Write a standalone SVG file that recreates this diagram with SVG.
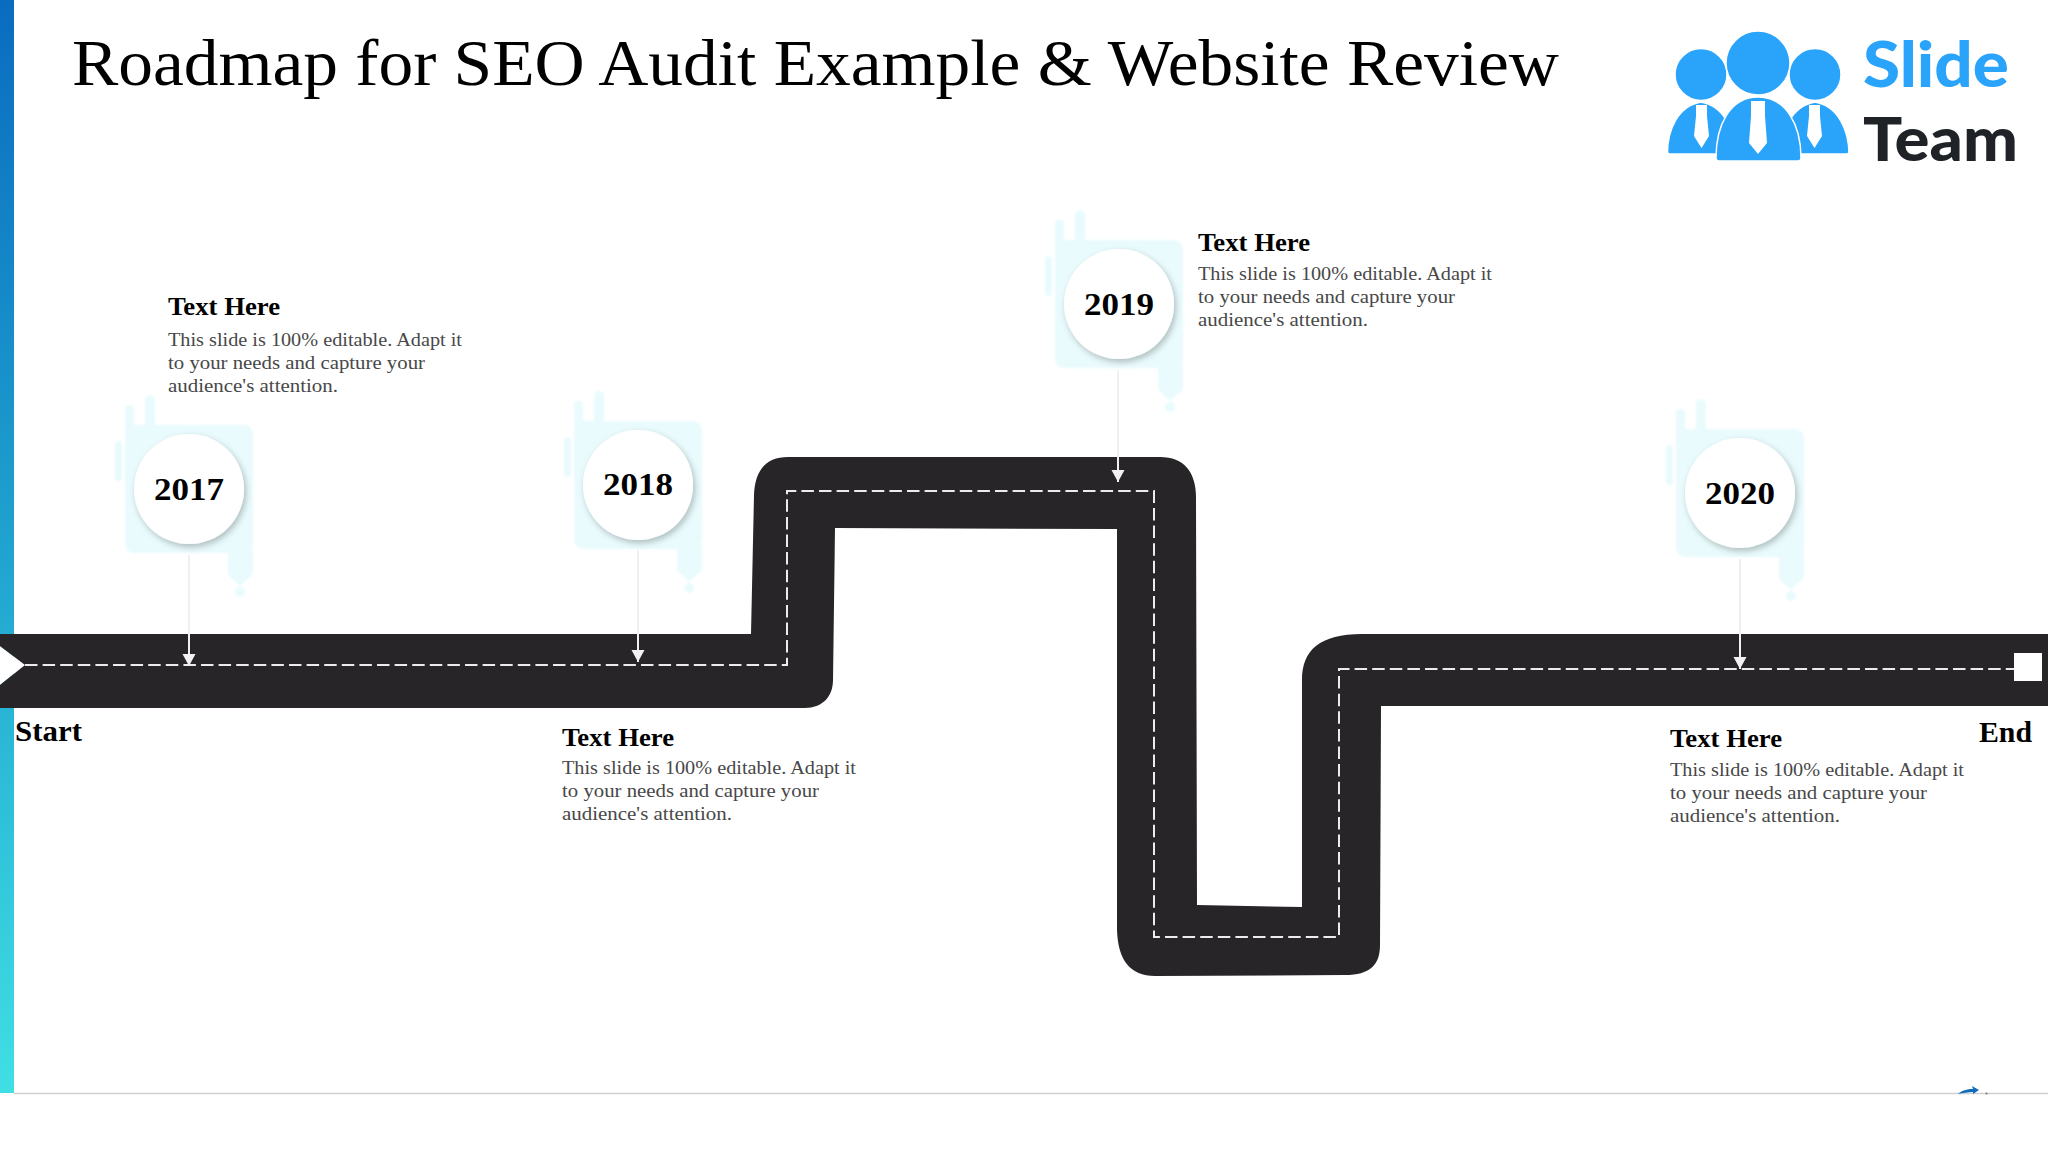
<svg xmlns="http://www.w3.org/2000/svg" width="2048" height="1152" viewBox="0 0 2048 1152">
<defs>
<linearGradient id="bar" x1="0" y1="0" x2="0" y2="1"><stop offset="0" stop-color="#0a6cc0"/><stop offset="0.5" stop-color="#1fa3cf"/><stop offset="1" stop-color="#40dfe4"/></linearGradient>
<filter id="sh" x="-30%" y="-30%" width="170%" height="170%"><feDropShadow dx="2" dy="3" stdDeviation="3" flood-color="#000" flood-opacity="0.25"/></filter>
<filter id="soft" x="-20%" y="-20%" width="140%" height="140%"><feGaussianBlur stdDeviation="1.2"/></filter>
<marker id="ah" markerUnits="userSpaceOnUse" markerWidth="14" markerHeight="14" refX="12" refY="6.5" orient="auto"><path d="M0,0L12,6.5L0,13Z" fill="#f2f2f4"/></marker>
<g id="blob">
<rect x="-64" y="-64" width="128" height="128" rx="9"/>
<rect x="-64" y="-84" width="9" height="30" rx="4"/>
<rect x="-44" y="-94" width="10" height="40" rx="5"/>
<rect x="-74" y="-48" width="7" height="40" rx="3.5"/>
<path d="M39,60H64V82Q64,88 58,90L51,97L45,91Q39,88 39,82Z"/>
<circle cx="51" cy="103" r="5"/>
</g>
</defs>
<style>
text{font-family:"Liberation Serif","DejaVu Serif",serif}
.h{font-size:25px;font-weight:bold;fill:#000}
.b{font-size:19px;fill:#484848}
.y{font-size:32px;font-weight:bold;fill:#000;text-anchor:middle}
.se{font-size:29px;font-weight:bold;fill:#000}
.disc{fill:#fff;filter:url(#sh)}
.bl{fill:#e9fbfd;filter:url(#soft)}
.pin{fill:none;stroke:#f0f0f3;stroke-width:2;marker-end:url(#ah)}
.lg{fill:#2aa4fb;stroke:#fff;stroke-width:1.5}
.t{fill:#fff}
.lt{font-family:"Lato","Open Sans",sans-serif;font-weight:900}
</style>
<rect width="2048" height="1152" fill="#fff"/>
<rect x="0" y="0" width="14" height="1093" fill="url(#bar)"/>
<line x1="14" y1="1093.5" x2="2048" y2="1093.5" stroke="#cfcfd3" stroke-width="1.5"/>
<path d="M1958,1094C1964,1089 1970,1089 1973,1089L1972,1086L1979,1090L1973,1094L1973,1092C1968,1092 1963,1093 1958,1094Z" fill="#0f6cbd"/>
<circle cx="1986.500" cy="1093.500" r="1" fill="#777"/>
<text x="72" y="85" font-size="66" fill="#000" textLength="1487" lengthAdjust="spacingAndGlyphs">Roadmap for SEO Audit Example &amp; Website Review</text>

<g id="road">
<path d="M0,646L25,665L0,685Z" fill="#fff"/>
<path d="M0,634L751,634L754,495C755,470 766,457 788,457L1160,457C1184,457 1196,472 1196,498L1197,905L1302,907L1302,680C1302,650 1320,634 1362,634L2048,634L2048,706L1381,706L1380,945C1380,965 1370,975 1345,975L1155,976C1130,976 1118,960 1117,930L1117,529L835,528L833,680C833,697 822,708 805,708L0,708L0,685L25,665L0,646Z" fill="#272527"/>
<rect x="2014" y="653" width="28" height="28" fill="#fff"/>
</g>

<g id="connectors">
<path d="M25,665H787V491H1154V937H1339V669H2014" fill="none" stroke="#ececec" stroke-width="2" stroke-dasharray="12.500 5.100"/>
<path class="pin" d="M189,555V666"/>
<path class="pin" d="M638,550V662"/>
<path class="pin" d="M1118,370V482"/>
<path class="pin" d="M1740,559V669"/>
</g>

<g id="node-2017">
<use href="#blob" x="189" y="489" class="bl"/>
<circle class="disc" cx="189" cy="489" r="55"/>
<text class="y" x="189" y="500" textLength="70" lengthAdjust="spacingAndGlyphs">2017</text>
<text class="h" x="168" y="315" textLength="112" lengthAdjust="spacingAndGlyphs">Text Here</text>
<text class="b" x="168" y="346" textLength="294" lengthAdjust="spacingAndGlyphs">This slide is 100% editable. Adapt it</text>
<text class="b" x="168" y="369" textLength="257" lengthAdjust="spacingAndGlyphs">to your needs and capture your</text>
<text class="b" x="168" y="392" textLength="170" lengthAdjust="spacingAndGlyphs">audience's attention.</text>
</g>
<g id="node-2018">
<use href="#blob" x="638" y="485" class="bl"/>
<circle class="disc" cx="638" cy="485" r="55"/>
<text class="y" x="638" y="495" textLength="70" lengthAdjust="spacingAndGlyphs">2018</text>
<text class="h" x="562" y="746" textLength="112" lengthAdjust="spacingAndGlyphs">Text Here</text>
<text class="b" x="562" y="774" textLength="294" lengthAdjust="spacingAndGlyphs">This slide is 100% editable. Adapt it</text>
<text class="b" x="562" y="797" textLength="257" lengthAdjust="spacingAndGlyphs">to your needs and capture your</text>
<text class="b" x="562" y="820" textLength="170" lengthAdjust="spacingAndGlyphs">audience's attention.</text>
</g>
<g id="node-2019">
<use href="#blob" x="1119" y="304" class="bl"/>
<circle class="disc" cx="1119" cy="304" r="55"/>
<text class="y" x="1119" y="315" textLength="70" lengthAdjust="spacingAndGlyphs">2019</text>
<text class="h" x="1198" y="251" textLength="112" lengthAdjust="spacingAndGlyphs">Text Here</text>
<text class="b" x="1198" y="280" textLength="294" lengthAdjust="spacingAndGlyphs">This slide is 100% editable. Adapt it</text>
<text class="b" x="1198" y="303" textLength="257" lengthAdjust="spacingAndGlyphs">to your needs and capture your</text>
<text class="b" x="1198" y="326" textLength="170" lengthAdjust="spacingAndGlyphs">audience's attention.</text>
</g>
<g id="node-2020">
<use href="#blob" x="1740" y="493" class="bl"/>
<circle class="disc" cx="1740" cy="493" r="55"/>
<text class="y" x="1740" y="504" textLength="70" lengthAdjust="spacingAndGlyphs">2020</text>
<text class="h" x="1670" y="747" textLength="112" lengthAdjust="spacingAndGlyphs">Text Here</text>
<text class="b" x="1670" y="776" textLength="294" lengthAdjust="spacingAndGlyphs">This slide is 100% editable. Adapt it</text>
<text class="b" x="1670" y="799" textLength="257" lengthAdjust="spacingAndGlyphs">to your needs and capture your</text>
<text class="b" x="1670" y="822" textLength="170" lengthAdjust="spacingAndGlyphs">audience's attention.</text>
</g>
<g id="node-start"><text class="se" x="15" y="741" textLength="67" lengthAdjust="spacingAndGlyphs">Start</text></g>
<g id="node-end"><text class="se" x="1979" y="742" textLength="53" lengthAdjust="spacingAndGlyphs">End</text></g>

<g id="logo">
<path class="lg" d="M1667.500,154C1667,130 1678,106 1701,102C1724,106 1735,130 1735,154H1670Q1667.500,154 1667.500,152Z"/>
<path class="lg" d="M1849,154C1849,130 1838,106 1815,102C1792,106 1781,130 1781,154H1846Q1849,154 1849,152Z"/>
<circle class="lg" cx="1701" cy="74.500" r="26"/>
<circle class="lg" cx="1815" cy="74.500" r="26"/>
<path class="lg" d="M1716,158C1716,125 1730,97 1758,97C1786,97 1801,125 1801,158Q1801,161 1798,161H1719Q1716,161 1716,158Z"/>
<circle class="lg" cx="1758" cy="63" r="32"/>
<path class="t" d="M1696,105H1707V116L1709,136L1701.500,148L1694,136L1696,116Z"/>
<path class="t" d="M1809,105H1820V116L1822,136L1814.500,148L1807,136L1809,116Z"/>
<path class="t" d="M1751,101H1765V116L1767,143L1758,154L1749,143L1751,116Z"/>
<text class="lt" x="1863" y="87" font-size="62" fill="#2aa4fb" textLength="146" lengthAdjust="spacingAndGlyphs">Slide</text>
<text class="lt" x="1863" y="161" font-size="60" fill="#1f2328" textLength="155" lengthAdjust="spacingAndGlyphs">Team</text>
</g>
</svg>
